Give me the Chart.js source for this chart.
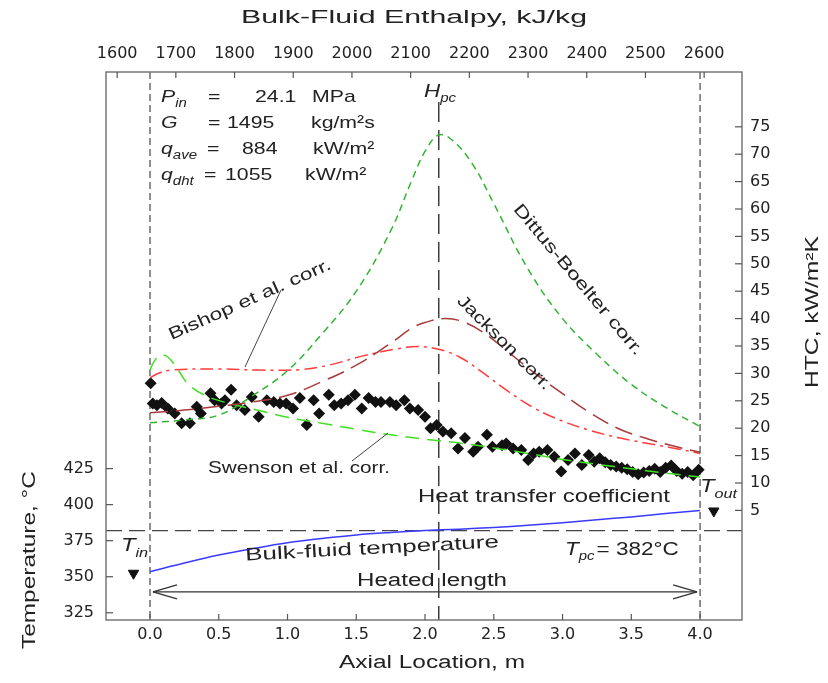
<!DOCTYPE html>
<html>
<head>
<meta charset="utf-8">
<script src="https://cdn.jsdelivr.net/npm/chart.js@4.4.1/dist/chart.umd.min.js"></script>
<style>
  body { margin: 0; background: #fff; }
  #wrap { width: 828px; height: 683px; }
</style>
</head>
<body>
<div id="wrap"><canvas id="htcChart" width="828" height="683"></canvas></div>
<script>
// tick labels
const axialTicks = [0, 0.5, 1, 1.5, 2, 2.5, 3, 3.5, 4];
const enthalpyTicks = [1600, 1700, 1800, 1900, 2000, 2100, 2200, 2300, 2400, 2500, 2600];
const tempTicks = [325, 350, 375, 400, 425];
const htcTicks = [5, 10, 15, 20, 25, 30, 35, 40, 45, 50, 55, 60, 65, 70, 75];

// experimental HTC (axial location m, kW/m2K)
const expX = [0.005, 0.02, 0.05, 0.085, 0.13, 0.18, 0.23, 0.29, 0.34, 0.37, 0.44, 0.47, 0.52, 0.545, 0.59,
  0.63, 0.69, 0.74, 0.79, 0.85, 0.90, 0.945, 0.99, 1.04, 1.09, 1.14, 1.19, 1.23, 1.30, 1.34, 1.39, 1.44,
  1.49, 1.54, 1.59, 1.64, 1.68, 1.745, 1.79, 1.85, 1.89, 1.95, 2.0, 2.04, 2.085, 2.13, 2.19, 2.24, 2.29,
  2.35, 2.385, 2.45, 2.49, 2.56, 2.59, 2.64, 2.70, 2.75, 2.79, 2.83, 2.89, 2.94, 2.99, 3.04, 3.09, 3.14,
  3.19, 3.23, 3.27, 3.31, 3.35, 3.39, 3.43, 3.47, 3.51, 3.55, 3.59, 3.63, 3.67, 3.71, 3.75, 3.79, 3.83,
  3.87, 3.91, 3.95, 3.99];
const expHTC = [28.2, 24.5, 24.2, 24.6, 23.6, 22.7, 20.9, 20.9, 23.9, 22.7, 26.4, 25.1, 24.5, 25.1, 27.0,
  24.2, 23.3, 25.7, 22.1, 25.1, 24.8, 24.5, 24.5, 23.6, 25.5, 20.6, 25.1, 22.7, 26.1, 24.2, 24.5, 25.1,
  26.1, 23.6, 25.5, 24.8, 24.8, 24.8, 24.2, 25.1, 23.6, 23.3, 22.1, 20.0, 20.6, 19.4, 19.1, 16.3, 18.2,
  15.7, 16.6, 18.8, 16.6, 16.9, 17.2, 16.3, 16.0, 14.2, 15.4, 15.7, 16.0, 14.8, 12.1, 14.2, 15.4, 13.3,
  15.1, 13.9, 14.5, 13.8, 13.3, 13.0, 12.8, 12.5, 12.0, 11.6, 11.9, 12.2, 12.6, 12.0, 12.8, 13.2, 12.2,
  11.7, 12.0, 11.4, 12.4];

// correlations
const dittusX = [0, 0.25, 0.5, 0.75, 1.0, 1.25, 1.5, 1.75, 1.9, 2.0, 2.1, 2.2, 2.35, 2.5, 2.75, 3.0, 3.25, 3.5, 3.75, 4.0];
const dittusHTC = [21.0, 21.5, 22.4, 26.0, 30.5, 37.2, 45.0, 56.0, 65.0, 70.5, 73.5, 72.5, 68.0, 61.0, 49.0, 40.0, 33.5, 28.0, 23.8, 20.3];

const jacksonX = [0, 0.25, 0.5, 0.75, 1.0, 1.25, 1.5, 1.75, 1.9, 2.0, 2.15, 2.3, 2.45, 2.6, 2.8, 3.0, 3.2, 3.4, 3.6, 3.8, 4.0];
const jacksonHTC = [22.8, 23.3, 24.0, 24.8, 26.0, 28.5, 31.5, 35.5, 38.2, 39.3, 40.0, 39.2, 37.0, 34.0, 30.0, 26.3, 22.8, 20.0, 18.2, 16.8, 15.6];

const bishopX = [0, 0.05, 0.15, 0.5, 0.8, 1.1, 1.3, 1.55, 1.8, 1.95, 2.1, 2.25, 2.4, 2.6, 2.8, 3.0, 3.2, 3.4, 3.6, 3.8, 4.0];
const bishopHTC = [29.2, 29.9, 30.6, 30.8, 30.6, 30.7, 31.5, 33.2, 34.5, 34.9, 34.4, 33.0, 30.5, 26.8, 23.6, 21.3, 19.6, 18.3, 17.3, 16.4, 15.4];

const swensonX = [0, 0.03, 0.08, 0.13, 0.2, 0.28, 0.4, 0.55, 0.8, 1.0, 1.25, 1.5, 1.75, 2.0, 2.25, 2.5, 2.75, 3.0, 3.25, 3.5, 3.75, 4.0];
const swensonHTC = [30.5, 32.2, 33.3, 33.0, 30.8, 28.0, 26.0, 24.7, 23.2, 22.0, 20.9, 19.8, 18.8, 18.0, 17.3, 16.4, 15.4, 14.3, 13.4, 12.6, 11.8, 11.1];

// bulk-fluid temperature, deg C
const bulkX = [0, 0.25, 0.5, 0.75, 1.0, 1.25, 1.5, 1.75, 2.0, 2.25, 2.5, 2.75, 3.0, 3.25, 3.5, 3.75, 4.0];
const bulkT = [353.5, 359.5, 365.0, 369.5, 373.5, 376.5, 379.0, 380.7, 382.0, 383.0, 384.2, 385.7, 387.5, 389.5, 391.5, 393.8, 396.0];

// inlet / outlet temperature markers
const inOutX = [-0.12, 4.1];
const inOutT = [352.4, 395.6];

const Tpc = 382;
const Hpc = 2.1;
const heatedStart = 0, heatedEnd = 4;

const FONT = 'Liberation Sans, Arial, sans-serif';
const TICKFONT = 'DejaVu Sans, sans-serif';
const STRETCH = 1.25;

function pts(xs, ys) {
  return xs.map((x, i) => ({ x: x, y: ys[i] }));
}

function fixTicks(values) {
  return function (axis) { axis.ticks = values.map(v => ({ value: v })); };
}

function corrLine(label, xs, ys, color, dash) {
  return {
    type: 'line', label: label, data: pts(xs, ys),
    xAxisID: 'x', yAxisID: 'yH',
    borderColor: color, borderWidth: 1.5, borderDash: dash,
    pointRadius: 0, tension: 0.4, fill: false, order: 1
  };
}

// italic symbol + subscript, stretched horizontally like the original
function symText(ctx, main, sub, x, y, size) {
  ctx.save();
  ctx.translate(x, y);
  ctx.scale(STRETCH, 1);
  ctx.textAlign = 'left';
  ctx.textBaseline = 'middle';
  ctx.font = 'italic ' + size + 'px ' + FONT;
  ctx.fillText(main, 0, 0);
  const w = ctx.measureText(main).width;
  ctx.font = 'italic ' + Math.round(size * 0.68) + 'px ' + FONT;
  ctx.fillText(sub, w, size * 0.38);
  const total = w + ctx.measureText(sub).width;
  ctx.restore();
  return total * STRETCH;
}

// text fitted to a given width (or the default stretch)
function label(ctx, s, x, y, size, angle, align, width) {
  ctx.save();
  ctx.translate(x, y);
  if (angle) ctx.rotate(angle * Math.PI / 180);
  ctx.font = size + 'px ' + FONT;
  const sx = width ? width / ctx.measureText(s).width : STRETCH;
  ctx.scale(sx, 1);
  ctx.textAlign = align || 'center';
  ctx.textBaseline = 'middle';
  ctx.fillText(s, 0, 0);
  ctx.restore();
}

function line(ctx, x1, y1, x2, y2) {
  ctx.beginPath();
  ctx.moveTo(x1, y1);
  ctx.lineTo(x2, y2);
  ctx.stroke();
}

const decor = {
  id: 'decor',
  beforeDatasetsDraw(chart) {
    const { ctx, chartArea: a, scales } = chart;
    const x = scales.x, yT = scales.yT;
    ctx.save();
    // heated section boundaries
    ctx.strokeStyle = '#555';
    ctx.lineWidth = 1.3;
    ctx.setLineDash([7, 4]);
    [heatedStart, heatedEnd].forEach(v => line(ctx, x.getPixelForValue(v), a.top, x.getPixelForValue(v), a.bottom));
    // pseudocritical temperature
    ctx.setLineDash([16, 7]);
    ctx.strokeStyle = '#444';
    const yp = yT.getPixelForValue(Tpc);
    line(ctx, a.left, yp, a.right, yp);
    // pseudocritical enthalpy
    ctx.strokeStyle = '#222';
    ctx.setLineDash([20, 8]);
    const xh = x.getPixelForValue(Hpc);
    line(ctx, xh, a.top + 30, xh, a.bottom);
    ctx.restore();
  },
  afterDatasetsDraw(chart) {
    const { ctx, chartArea: a, scales } = chart;
    const x = scales.x, xTop = scales.xTop, yT = scales.yT, yH = scales.yH;
    ctx.save();
    // frame
    ctx.strokeStyle = '#777';
    ctx.lineWidth = 1.5;
    ctx.strokeRect(a.left, a.top, a.right - a.left, a.bottom - a.top);
    // inward tick marks
    ctx.lineWidth = 1.2;
    ctx.strokeStyle = '#555';
    axialTicks.forEach(v => { const p = x.getPixelForValue(v); line(ctx, p, a.bottom, p, a.bottom - 6); });
    enthalpyTicks.forEach(v => { const p = xTop.getPixelForValue(v); line(ctx, p, a.top, p, a.top + 6); });
    tempTicks.forEach(v => { const p = yT.getPixelForValue(v); line(ctx, a.left, p, a.left + 7, p); });
    htcTicks.forEach(v => { const p = yH.getPixelForValue(v); line(ctx, a.right, p, a.right - 7, p); });

    // heated length arrow
    const ya = yT.getPixelForValue(339.5);
    const x0 = x.getPixelForValue(heatedStart) + 3, x1 = x.getPixelForValue(heatedEnd) - 3;
    ctx.strokeStyle = '#333';
    ctx.lineWidth = 1.2;
    line(ctx, x0, ya, x1, ya);
    line(ctx, x0, ya, x0 + 24, ya - 7); line(ctx, x0, ya, x0 + 24, ya + 7);
    line(ctx, x1, ya, x1 - 24, ya - 7); line(ctx, x1, ya, x1 - 24, ya + 7);

    // leader lines
    ctx.strokeStyle = '#444';
    ctx.lineWidth = 1;
    line(ctx, 245, 367, 281, 290);
    line(ctx, 352, 461, 388, 433);

    // axis titles
    ctx.fillStyle = '#222';
    label(ctx, 'Bulk-Fluid Enthalpy, kJ/kg', 414, 18, 18, 0, 'center', 346);
    label(ctx, 'Axial Location, m', 432, 663, 18, 0, 'center', 186);
    label(ctx, 'Temperature, \u00B0C', 30, 560, 18, -90, 'center', 178);
    label(ctx, 'HTC, kW/m\u00B2K', 813, 312, 18, -90, 'center', 152);

    // parameter box
    const fs = 17;
    symText(ctx, 'P', 'in', 161, 97, fs);
    symText(ctx, 'G', '', 161, 123, fs);
    symText(ctx, 'q', 'ave', 161, 149, fs);
    symText(ctx, 'q', 'dht', 161, 175, fs);
    label(ctx, '=', 208, 97, fs, 0, 'left'); label(ctx, '24.1', 255, 97, fs, 0, 'left'); label(ctx, 'MPa', 312, 97, fs, 0, 'left');
    label(ctx, '=', 208, 123, fs, 0, 'left'); label(ctx, '1495', 227, 123, fs, 0, 'left'); label(ctx, 'kg/m\u00B2s', 311, 123, fs, 0, 'left');
    label(ctx, '=', 207, 149, fs, 0, 'left'); label(ctx, '884', 242, 149, fs, 0, 'left'); label(ctx, 'kW/m\u00B2', 313, 149, fs, 0, 'left');
    label(ctx, '=', 204, 175, fs, 0, 'left'); label(ctx, '1055', 225, 175, fs, 0, 'left'); label(ctx, 'kW/m\u00B2', 305, 175, fs, 0, 'left');

    // curve labels
    label(ctx, 'Bishop et al. corr.', 250, 300, 17, -24, 'center', 176);
    label(ctx, 'Dittus-Boelter corr.', 578, 280, 17, 50, 'center', 192);
    label(ctx, 'Jackson corr.', 504, 343, 17, 45, 'center', 126);
    label(ctx, 'Swenson et al. corr.', 208, 468, 17, 0, 'left', 182);
    label(ctx, 'Heat transfer coefficient', 418, 497, 18, 0, 'left', 252);
    label(ctx, 'Bulk-fluid temperature', 372, 549, 18, -3, 'center', 254);
    label(ctx, 'Heated length', 432, 581, 18, 0, 'center', 150);

    const w = symText(ctx, 'T', 'pc', 565, 550, 18);
    label(ctx, '= 382\u00B0C', 565 + w + 2, 550, 18, 0, 'left');
    symText(ctx, 'T', 'in', 121, 546, 19);
    symText(ctx, 'T', 'out', 700, 487, 19);
    symText(ctx, 'H', 'pc', 424, 92, 18);
    ctx.restore();
  }
};

const ctx = document.getElementById('htcChart').getContext('2d');

const htcChart = new Chart(ctx, {
  data: {
    datasets: [
      corrLine('Dittus-Boelter corr.', dittusX, dittusHTC, '#2fb52f', [7, 5]),
      corrLine('Jackson corr.', jacksonX, jacksonHTC, '#a83a3a', [18, 8]),
      corrLine('Bishop et al. corr.', bishopX, bishopHTC, '#ff3b3b', [13, 5, 3, 5]),
      corrLine('Swenson et al. corr.', swensonX, swensonHTC, '#3fe022', [14, 8]),
      {
        type: 'line', label: 'Bulk-fluid temperature', data: pts(bulkX, bulkT),
        xAxisID: 'x', yAxisID: 'yT', borderColor: '#3a3aff', borderWidth: 1.5,
        pointRadius: 0, tension: 0.4, fill: false, order: 1
      },
      {
        type: 'scatter', label: 'Tin / Tout', data: pts(inOutX, inOutT),
        xAxisID: 'x', yAxisID: 'yT', pointStyle: 'triangle', rotation: 180,
        pointRadius: 6, backgroundColor: '#111', borderColor: '#111', order: 2
      },
      {
        type: 'scatter', label: 'Heat transfer coefficient', data: pts(expX, expHTC),
        xAxisID: 'x', yAxisID: 'yH', pointStyle: 'rectRot', pointRadius: 6,
        backgroundColor: '#111', borderColor: '#111', borderWidth: 0, order: 5
      }
    ]
  },
  options: {
    responsive: false,
    animation: false,
    layout: { padding: 0 },
    plugins: {
      legend: { display: false },
      tooltip: { enabled: false }
    },
    scales: {
      x: {
        type: 'linear', position: 'bottom', min: -0.32, max: 4.305,
        grid: { display: false, drawTicks: false }, border: { display: false },
        afterBuildTicks: fixTicks(axialTicks),
        afterFit: s => { s.height = 63; },
        ticks: { padding: 5, color: '#222', autoSkip: false, maxRotation: 0,
          font: { size: 16, family: TICKFONT }, callback: v => v.toFixed(1) }
      },
      xTop: {
        type: 'linear', position: 'top', min: 1581, max: 2664.5,
        grid: { display: false, drawTicks: false }, border: { display: false },
        afterBuildTicks: fixTicks(enthalpyTicks),
        afterFit: s => { s.height = 72; },
        ticks: { padding: 9, color: '#222', autoSkip: false, maxRotation: 0,
          font: { size: 16, family: TICKFONT }, callback: v => String(v) }
      },
      yT: {
        type: 'linear', position: 'left', min: 320, max: 700,
        grid: { display: false, drawTicks: false }, border: { display: false },
        afterBuildTicks: fixTicks(tempTicks),
        afterFit: s => { s.width = 106; },
        ticks: { padding: 12, color: '#222', font: { size: 16, family: TICKFONT } }
      },
      yH: {
        type: 'linear', position: 'right', min: -15, max: 85,
        grid: { display: false, drawTicks: false }, border: { display: false },
        afterBuildTicks: fixTicks(htcTicks),
        afterFit: s => { s.width = 86; },
        ticks: { padding: 8, color: '#222', font: { size: 16, family: TICKFONT } }
      }
    }
  },
  plugins: [decor]
});
</script>
</body>
</html>
